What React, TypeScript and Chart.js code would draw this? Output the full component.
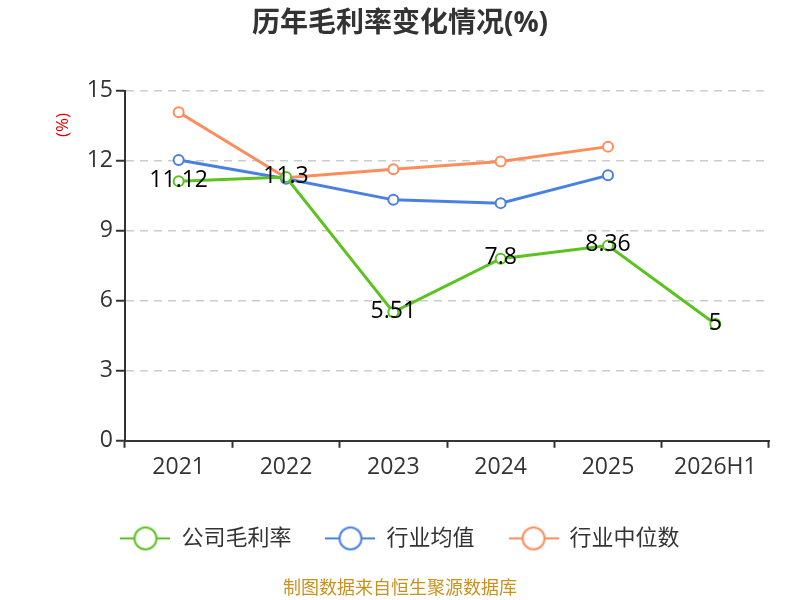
import React, { useEffect, useRef } from "react";
import { Chart, registerables, Plugin } from "chart.js";

Chart.register(...registerables);

const years = ["2021", "2022", "2023", "2024", "2025", "2026H1"];
const companyMargin = [11.12, 11.3, 5.51, 7.8, 8.36, 5];
const industryAvg = [12.03, 11.22, 10.32, 10.18, 11.37, null];
const industryMedian = [14.07, 11.27, 11.63, 11.96, 12.6, null];
const yTicks = [0, 3, 6, 9, 12, 15];

const GREEN = "#5bc31f";
const BLUE = "#4a80e2";
const ORANGE = "#ff8c5a";
const FONT = '"Open Sans", "Noto Sans CJK SC", sans-serif';

function legendIcon(color: string) {
  const c = document.createElement("canvas");
  c.width = 50;
  c.height = 26;
  const g = c.getContext("2d")!;
  g.strokeStyle = color;
  g.lineWidth = 2;
  g.beginPath();
  g.moveTo(0, 13);
  g.lineTo(50, 13);
  g.stroke();
  g.beginPath();
  g.arc(25, 13, 11, 0, Math.PI * 2);
  g.fillStyle = "#fff";
  g.fill();
  g.stroke();
  return c;
}

// labels for the company series, centred on the points
const valueLabels: Plugin<"line"> = {
  id: "valueLabels",
  afterDatasetsDraw(chart) {
    const ctx = chart.ctx;
    const meta = chart.getDatasetMeta(0);
    ctx.save();
    ctx.font = `23px ${FONT}`;
    ctx.fillStyle = "#000";
    ctx.textAlign = "center";
    ctx.textBaseline = "middle";
    meta.data.forEach((pt, i) => {
      ctx.fillText(String(companyMargin[i]), pt.x, pt.y - 1);
    });
    ctx.restore();
  },
};

const unitLabel: Plugin<"line"> = {
  id: "unitLabel",
  afterDraw(chart) {
    const ctx = chart.ctx;
    ctx.save();
    ctx.translate(63, 125);
    ctx.rotate(-Math.PI / 2);
    ctx.font = `17px ${FONT}`;
    ctx.fillStyle = "#e00000";
    ctx.textAlign = "center";
    ctx.textBaseline = "middle";
    ctx.fillText("(%)", 0, 0);
    ctx.restore();
  },
};

export default function App() {
  const ref = useRef<HTMLCanvasElement | null>(null);

  useEffect(() => {
    document.body.style.margin = "0";
    const ctx = ref.current?.getContext("2d");
    if (!ctx) return;
    const series = [
      { label: "公司毛利率", data: companyMargin, color: GREEN },
      { label: "行业均值", data: industryAvg, color: BLUE },
      { label: "行业中位数", data: industryMedian, color: ORANGE },
    ];
    const chart = new Chart(ctx, {
      type: "line",
      data: {
        labels: years,
        datasets: series.map((s) => ({
          label: s.label,
          data: s.data,
          borderColor: s.color,
          backgroundColor: "#fff",
          borderWidth: 3,
          pointRadius: 5,
          pointBorderWidth: 2,
          pointBackgroundColor: "#fff",
          pointBorderColor: s.color,
          tension: 0,
        })),
      },
      options: {
        responsive: false,
        animation: false,
        layout: { padding: { left: 31, right: 31, top: 0, bottom: 0 } },
        plugins: {
          title: {
            display: true,
            text: "历年毛利率变化情况(%)",
            color: "#333",
            font: { family: FONT, size: 28, weight: "bold" },
            padding: { top: 7, bottom: 50 },
          },
          subtitle: {
            display: true,
            position: "bottom",
            text: "制图数据来自恒生聚源数据库",
            color: "#c8921e",
            font: { family: FONT, size: 18 },
            padding: { top: 19, bottom: 0 },
          },
          legend: {
            position: "bottom",
            labels: {
              usePointStyle: true,
              pointStyleWidth: 50,
              color: "#333",
              font: { family: FONT, size: 22 },
              padding: 34,
              generateLabels: (c) =>
                series.map((s, i) => ({
                  text: s.label,
                  pointStyle: legendIcon(s.color),
                  fillStyle: "#fff",
                  strokeStyle: s.color,
                  lineWidth: 0,
                  datasetIndex: i,
                  hidden: !c.isDatasetVisible(i),
                  fontColor: "#333",
                })),
            },
          },
          tooltip: { enabled: false },
        },
        scales: {
          x: {
            offset: true,
            grid: {
              offset: true,
              drawOnChartArea: false,
              drawTicks: true,
              tickLength: 7,
              tickColor: "#333",
              tickWidth: 2,
            },
            border: { color: "#333", width: 2 },
            ticks: { color: "#333", font: { family: FONT, size: 23 }, padding: 6 },
            afterFit: (axis) => {
              axis.height += 6;
            },
          },
          y: {
            min: 0,
            max: 15,
            afterBuildTicks: (axis) => {
              axis.ticks = yTicks.map((v) => ({ value: v }));
            },
            afterFit: (axis) => {
              axis.width = 94;
            },
            grid: {
              color: "#cccccc",
              lineWidth: 1.5,
              tickLength: 9,
              tickColor: "#333",
              tickWidth: 2,
            },
            border: { color: "#333", width: 2, dash: [8, 6] },
            ticks: { color: "#333", font: { family: FONT, size: 23 }, padding: 3 },
          },
        },
      },
      plugins: [valueLabels, unitLabel],
    });
    return () => chart.destroy();
  }, []);

  return <canvas ref={ref} width={800} height={600} />;
}
